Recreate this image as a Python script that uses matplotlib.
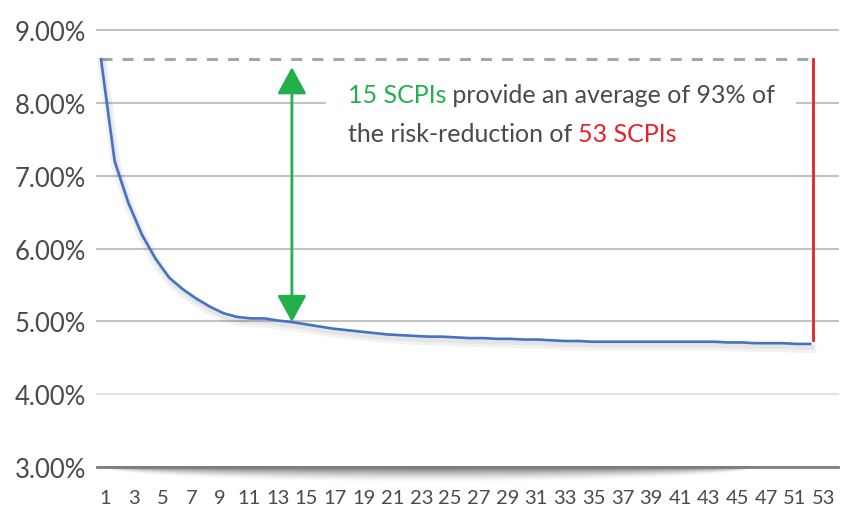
import numpy as np
import matplotlib.pyplot as plt
import matplotlib.patheffects as pe
from matplotlib.patches import Rectangle

plt.rcParams['font.family'] = ['Lato', 'DejaVu Sans']

# number of SCPIs in the portfolio and average risk (%)
n_scpi = list(range(1, 54))
risk = [8.60, 7.20, 6.63, 6.19, 5.86, 5.60, 5.44, 5.31, 5.20, 5.11,
        5.06, 5.04, 5.04, 5.01, 4.99, 4.96, 4.93, 4.90, 4.88, 4.86,
        4.84, 4.82, 4.81, 4.80, 4.79, 4.79, 4.78, 4.77, 4.77, 4.76,
        4.76, 4.75, 4.75, 4.74, 4.73, 4.73, 4.72, 4.72, 4.72, 4.72,
        4.72, 4.72, 4.72, 4.72, 4.72, 4.72, 4.71, 4.71, 4.70, 4.70,
        4.70, 4.69, 4.69]

x_labels = ['1', '3', '5', '7', '9', '11', '13', '15', '17', '19', '21', '23',
            '25', '27', '29', '31', '33', '35', '37', '39', '41', '43', '45',
            '47', '51', '53']
y_ticks = [3, 4, 5, 6, 7, 8, 9]

n_small = 15   # green arrow
n_all = 53     # red line

grey = '#4a4a4a'
green = '#22b04b'
red = '#e8202a'
blue = '#4472c4'

fig = plt.figure(figsize=(8.45, 5.1), dpi=100)
ax = fig.add_axes([97 / 845, 42 / 510, 741 / 845, 437 / 510])
for s in ax.spines.values():
    s.set_visible(False)

# gridlines
for v in y_ticks[1:]:
    c = '#e2e2e2' if v == 4 else '#c2c2c2'
    ax.axhline(v, color=c, lw=1.5, zorder=1, clip_on=False)

# baseline with soft shadow underneath
xs = np.linspace(0.7, 55.05, 600)
ds = np.linspace(0, 1, 40)
u = (xs - 25) / 24
depth = np.sqrt(np.clip(1 - u ** 2, 0, None))
alpha = 0.8 * np.clip(1 - ds[:, None] / np.maximum(depth[None, :], 1e-6), 0, 1) ** 1.6
img = np.zeros((len(ds), len(xs), 4))
img[..., :3] = 0.22
img[..., 3] = alpha
ax.imshow(img, extent=(0.7, 55.05, 3 - 16 / 72.8, 3), origin='upper', aspect='auto',
          clip_on=False, zorder=1, interpolation='bilinear')
ax.axhline(3, color='#7f7f7f', lw=2, zorder=3, clip_on=False)
ax.set_xlim(0.707, 55.05)
ax.set_ylim(3, 9)

# dashed reference at the 1-SCPI level
ax.plot([n_scpi[0], n_all + 0.2], [risk[0], risk[0]], color='#a6a6a6', lw=2.2,
        linestyle=(0, (3.6, 3.3)), zorder=2)

# curve
ax.plot(n_scpi, risk, color=blue, lw=1.9, zorder=4, solid_joinstyle='round',
        path_effects=[pe.SimpleLineShadow(offset=(1, -3), shadow_color='#000000',
                                          alpha=0.05, linewidth=7),
                      pe.SimpleLineShadow(offset=(1, -2.5), shadow_color='#000000',
                                          alpha=0.05, linewidth=3.5),
                      pe.Normal()])

# red vertical line at 53 SCPIs
ax.plot([n_all + 0.2, n_all + 0.2], [risk[0], risk[-1] + 0.06], color=red, lw=2, zorder=4)

# green double arrow at 15 SCPIs
ax.annotate('', xy=(n_small, risk[n_small - 1]), xytext=(n_small, risk[0] - 0.11),
            arrowprops=dict(arrowstyle='<|-|>,head_length=1.1,head_width=0.6',
                            mutation_scale=15, color=green, lw=2,
                            shrinkA=0, shrinkB=0),
            zorder=5)

# text box
ax.add_patch(Rectangle((17.5, 7.4), 34.5, 1.05, facecolor='white', edgecolor='none',
                       zorder=2))
fs = 18
t1 = ax.text(19.1, 8.01, '15 SCPIs', color=green, fontsize=fs, va='baseline', zorder=6)
ax.annotate(' provide an average of 93% of', xy=(1, 0), xycoords=t1, va='bottom',
            color=grey, fontsize=fs, zorder=6)
t2 = ax.text(19.1, 7.475, 'the risk-reduction of ', color=grey, fontsize=fs,
             va='baseline', zorder=6)
ax.annotate('53 SCPIs', xy=(1, 0), xycoords=t2, va='bottom', color=red,
            fontsize=fs, zorder=6)

# ticks
ax.set_xticks(np.linspace(1.3, 54.0, len(x_labels)), x_labels)
ax.set_yticks(y_ticks, ['%.2f%%' % v for v in y_ticks])
ax.tick_params(axis='x', length=0, pad=16, labelsize=14.5, labelcolor=grey)
ax.tick_params(axis='y', length=0, pad=8, labelsize=18.5, labelcolor=grey)

fig.savefig('out.png', dpi=100)
